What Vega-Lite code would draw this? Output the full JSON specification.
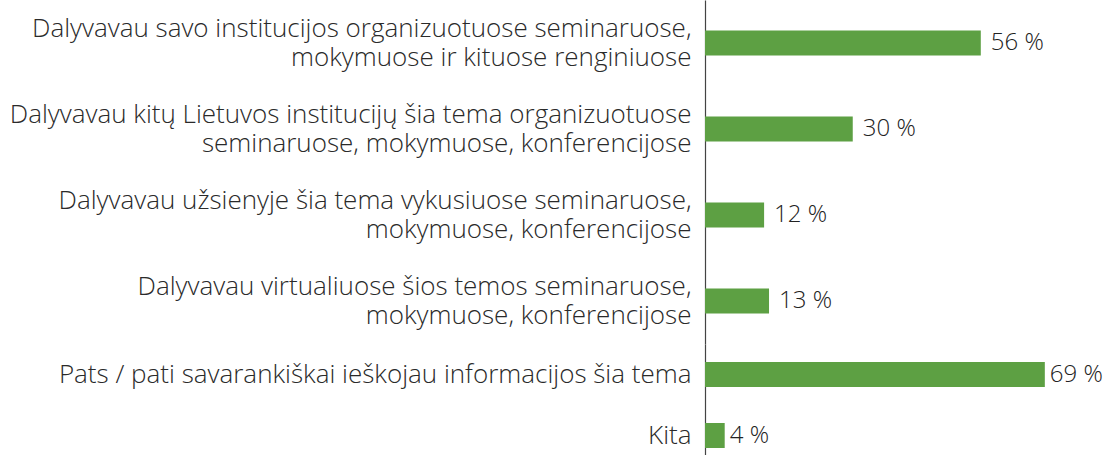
{
  "$schema": "https://vega.github.io/schema/vega-lite/v6.json",
  "padding": 0,
  "background": "white",
  "spacing": 0,
  "config": {"view": {"stroke": null}, "font": "Open Sans", "concat": {"spacing": 0}},
  "datasets": {
    "main": [
      {"answer": "Dalyvavau savo institucijos organizuotuose seminaruose,\nmokymuose ir kituose renginiuose", "value": 56, "label": "56 %"},
      {"answer": "Dalyvavau kitų Lietuvos institucijų šia tema organizuotuose\nseminaruose, mokymuose, konferencijose", "value": 30, "label": "30 %"},
      {"answer": "Dalyvavau užsienyje šia tema vykusiuose seminaruose,\nmokymuose, konferencijose", "value": 12, "label": "12 %"},
      {"answer": "Dalyvavau virtualiuose šios temos seminaruose,\nmokymuose, konferencijose", "value": 13, "label": "13 %"},
      {"answer": "Pats / pati savarankiškai ieškojau informacijos šia tema", "value": 69, "label": "69 %"},
      {"answer": "Kita", "value": 4, "label": "4 %"}
    ]
  },
  "vconcat": [
    {
      "width": 394,
      "height": 344,
      "data": {"name": "main"},
      "transform": [{"filter": {"field": "answer", "oneOf": [
        "Dalyvavau savo institucijos organizuotuose seminaruose,\nmokymuose ir kituose renginiuose",
        "Dalyvavau kitų Lietuvos institucijų šia tema organizuotuose\nseminaruose, mokymuose, konferencijose",
        "Dalyvavau užsienyje šia tema vykusiuose seminaruose,\nmokymuose, konferencijose",
        "Dalyvavau virtualiuose šios temos seminaruose,\nmokymuose, konferencijose"
      ]}}],
      "encoding": {
        "y": {"field": "answer", "type": "nominal", "sort": null,
          "scale": {"paddingInner": 0, "paddingOuter": 0},
          "axis": {"title": null, "ticks": false, "domainColor": "#444", "domainWidth": 1.2,
            "labelExpr": "split(datum.label, '\\n')", "labelFontSize": 26, "labelColor": "#2a2a2a",
            "labelLineHeight": 29, "labelPadding": 14, "labelLimit": 720, "minExtent": 705, "maxExtent": 705,
            "labelFont": "Open Sans", "labelFontWeight": 300, "labelBaseline": "middle", "labelOffset": -14}},
        "x": {"field": "value", "type": "quantitative", "scale": {"domain": [0, 80]}, "axis": null}
      },
      "layer": [
        {"mark": {"type": "bar", "color": "#5da043", "size": 25}},
        {"mark": {"type": "text", "align": "left", "dx": 10, "fontSize": 24, "fontWeight": 300, "color": "#222", "font": "Open Sans"},
         "encoding": {"text": {"field": "label"}}}
      ]
    },
    {
      "width": 394,
      "height": 122,
      "data": {"name": "main"},
      "transform": [{"filter": {"field": "answer", "oneOf": [
        "Pats / pati savarankiškai ieškojau informacijos šia tema",
        "Kita"
      ]}}],
      "encoding": {
        "y": {"field": "answer", "type": "nominal", "sort": null,
          "scale": {"paddingInner": 0, "paddingOuter": 0},
          "axis": {"title": null, "ticks": false, "domainColor": "#444", "domainWidth": 1.2,
            "labelExpr": "split(datum.label, '\\n')", "labelFontSize": 26, "labelColor": "#2a2a2a",
            "labelLineHeight": 29, "labelPadding": 14, "labelLimit": 720, "minExtent": 705, "maxExtent": 705,
            "labelFont": "Open Sans", "labelFontWeight": 300, "labelBaseline": "middle"}},
        "x": {"field": "value", "type": "quantitative", "scale": {"domain": [0, 80]}, "axis": null}
      },
      "layer": [
        {"mark": {"type": "bar", "color": "#5da043", "size": 25}},
        {"mark": {"type": "text", "align": "left", "dx": 5, "fontSize": 24, "fontWeight": 300, "color": "#222", "font": "Open Sans"},
         "encoding": {"text": {"field": "label"}}}
      ]
    }
  ]
}
